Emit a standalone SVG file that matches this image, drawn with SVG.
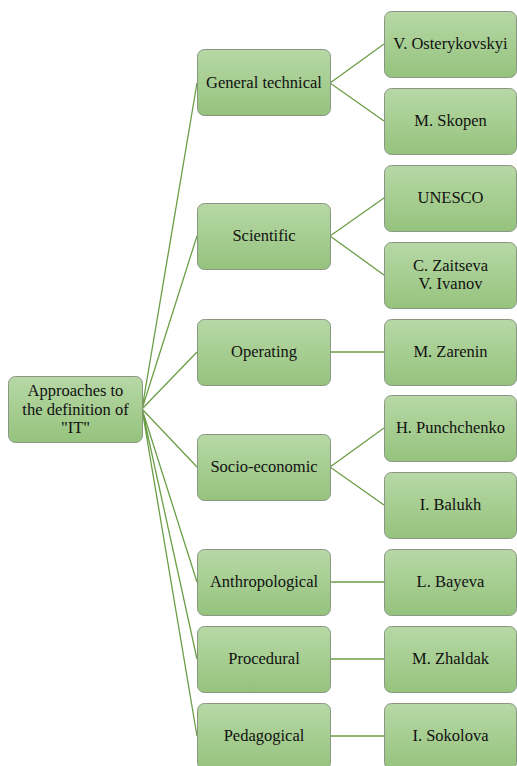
<svg xmlns="http://www.w3.org/2000/svg" width="517" height="766" viewBox="0 0 517 766">
<defs>
<linearGradient id="g" x1="0" y1="0" x2="0" y2="1">
<stop offset="0" stop-color="#b7d8a6"/>
<stop offset="1" stop-color="#95c37d"/>
</linearGradient>
</defs>
<rect width="517" height="766" fill="#fff"/>
<g id="connectors" stroke="#6b9e47" stroke-width="1.3" fill="none">
<path d="M142,409 L197,83 M142,409 L197,236 M142,409 L197,352 M142,409 L197,467 M142,409 L197,582 M142,409 L197,659 M142,409 L197,736"/>
<path d="M330,83 L384,44 M330,83 L384,121 M330,236 L384,198 M330,236 L384,275 M330,352 L384,352 M330,467 L384,428 M330,467 L384,505 M330,582 L384,582 M330,659 L384,659 M330,736 L384,736"/>
</g>
<g id="root"><rect fill="url(#g)" stroke="#8a9684" x="8.5" y="376.5" width="134" height="66" rx="7"/>
<text font-family="Times New Roman" font-size="16.5" fill="#111" text-anchor="middle"><tspan x="75.5" y="396">Approaches to</tspan><tspan x="75.5" y="414.5">the definition of</tspan><tspan x="75.5" y="433">"IT"</tspan></text></g>
<g id="general"><rect fill="url(#g)" stroke="#8a9684" x="197.5" y="49.5" width="133" height="66" rx="7"/><text font-family="Times New Roman" font-size="16.5" fill="#111" text-anchor="middle" x="264" y="88">General technical</text></g>
<g id="scientific"><rect fill="url(#g)" stroke="#8a9684" x="197.5" y="203.5" width="133" height="66" rx="7"/><text font-family="Times New Roman" font-size="16.5" fill="#111" text-anchor="middle" x="264" y="241">Scientific</text></g>
<g id="operating"><rect fill="url(#g)" stroke="#8a9684" x="197.5" y="319.5" width="133" height="66" rx="7"/><text font-family="Times New Roman" font-size="16.5" fill="#111" text-anchor="middle" x="264" y="357">Operating</text></g>
<g id="socio"><rect fill="url(#g)" stroke="#8a9684" x="197.5" y="434.5" width="133" height="66" rx="7"/><text font-family="Times New Roman" font-size="16.5" fill="#111" text-anchor="middle" x="264" y="472">Socio-economic</text></g>
<g id="anthro"><rect fill="url(#g)" stroke="#8a9684" x="197.5" y="549.5" width="133" height="66" rx="7"/><text font-family="Times New Roman" font-size="16.5" fill="#111" text-anchor="middle" x="264" y="587">Anthropological</text></g>
<g id="procedural"><rect fill="url(#g)" stroke="#8a9684" x="197.5" y="626.5" width="133" height="66" rx="7"/><text font-family="Times New Roman" font-size="16.5" fill="#111" text-anchor="middle" x="264" y="664">Procedural</text></g>
<g id="pedagogical"><rect fill="url(#g)" stroke="#8a9684" x="197.5" y="703.5" width="133" height="66" rx="7"/><text font-family="Times New Roman" font-size="16.5" fill="#111" text-anchor="middle" x="264" y="741">Pedagogical</text></g>
<g id="osterykovskyi"><rect fill="url(#g)" stroke="#8a9684" x="384.5" y="11.5" width="132" height="66" rx="7"/><text font-family="Times New Roman" font-size="16.5" fill="#111" text-anchor="middle" x="450.5" y="49">V. Osterykovskyi</text></g>
<g id="skopen"><rect fill="url(#g)" stroke="#8a9684" x="384.5" y="88.5" width="132" height="66" rx="7"/><text font-family="Times New Roman" font-size="16.5" fill="#111" text-anchor="middle" x="450.5" y="126">M. Skopen</text></g>
<g id="unesco"><rect fill="url(#g)" stroke="#8a9684" x="384.5" y="165.5" width="132" height="66" rx="7"/><text font-family="Times New Roman" font-size="16.5" fill="#111" text-anchor="middle" x="450.5" y="203">UNESCO</text></g>
<g id="zaitseva"><rect fill="url(#g)" stroke="#8a9684" x="384.5" y="242.5" width="132" height="66" rx="7"/><text font-family="Times New Roman" font-size="16.5" fill="#111" text-anchor="middle"><tspan x="450.5" y="271">C. Zaitseva</tspan><tspan x="450.5" y="289">V. Ivanov</tspan></text></g>
<g id="zarenin"><rect fill="url(#g)" stroke="#8a9684" x="384.5" y="319.5" width="132" height="66" rx="7"/><text font-family="Times New Roman" font-size="16.5" fill="#111" text-anchor="middle" x="450.5" y="357">M. Zarenin</text></g>
<g id="punchchenko"><rect fill="url(#g)" stroke="#8a9684" x="384.5" y="395.5" width="132" height="66" rx="7"/><text font-family="Times New Roman" font-size="16.5" fill="#111" text-anchor="middle" x="450.5" y="433">H. Punchchenko</text></g>
<g id="balukh"><rect fill="url(#g)" stroke="#8a9684" x="384.5" y="472.5" width="132" height="66" rx="7"/><text font-family="Times New Roman" font-size="16.5" fill="#111" text-anchor="middle" x="450.5" y="510">I. Balukh</text></g>
<g id="bayeva"><rect fill="url(#g)" stroke="#8a9684" x="384.5" y="549.5" width="132" height="66" rx="7"/><text font-family="Times New Roman" font-size="16.5" fill="#111" text-anchor="middle" x="450.5" y="587">L. Bayeva</text></g>
<g id="zhaldak"><rect fill="url(#g)" stroke="#8a9684" x="384.5" y="626.5" width="132" height="66" rx="7"/><text font-family="Times New Roman" font-size="16.5" fill="#111" text-anchor="middle" x="450.5" y="664">M. Zhaldak</text></g>
<g id="sokolova"><rect fill="url(#g)" stroke="#8a9684" x="384.5" y="703.5" width="132" height="66" rx="7"/><text font-family="Times New Roman" font-size="16.5" fill="#111" text-anchor="middle" x="450.5" y="741">I. Sokolova</text></g>
</svg>
